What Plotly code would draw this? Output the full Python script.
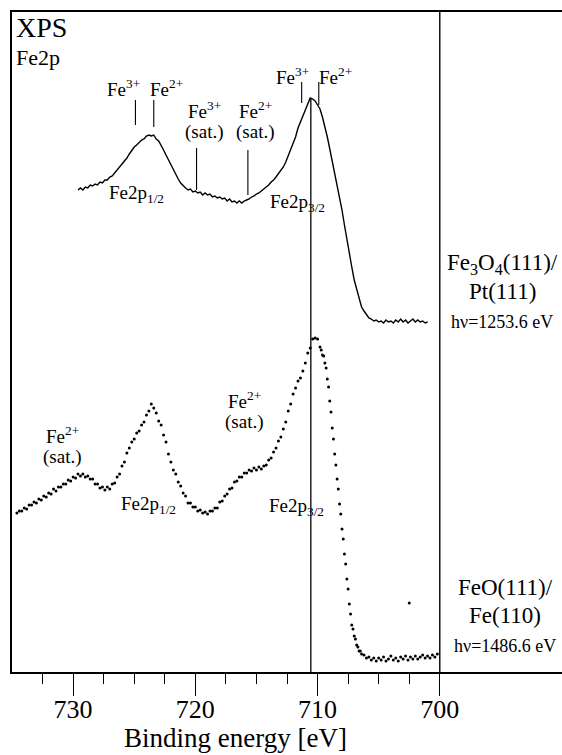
import plotly.graph_objects as go

# ---------------- data ----------------
# Fe3O4(111)/Pt(111), hv = 1253.6 eV, binding energy grid 729.6 -> 701.0 eV, step 0.2 eV
I_TOP = [
    482, 484, 482, 485, 484, 487, 486, 488, 487, 490,
    489, 492, 492, 495, 496, 499, 501, 505, 507, 511,
    514, 518, 522, 525, 527, 530, 532, 533, 536, 537,
    536, 537, 533, 531, 527, 522, 517, 512, 507, 502,
    497, 493, 489, 486, 484, 482, 483, 480, 481, 479,
    480, 477, 479, 477, 478, 475, 476, 474, 475, 473,
    474, 471, 473, 470, 471, 469, 471, 469, 471, 472,
    473, 475, 476, 478, 479, 481, 483, 485, 487, 490,
    492, 495, 498, 501, 505, 510, 516, 522, 529, 535,
    544, 551, 556, 562, 568, 574, 573, 571, 567, 563,
    555, 546, 535, 523, 511, 499, 488, 476, 462, 447,
    432, 418, 405, 392, 382, 372, 365, 361, 357, 354,
    353, 351, 352, 350, 351, 349, 352, 350, 351, 349,
    352, 350, 353, 350, 352, 349, 351, 353, 350, 352,
    350, 351, 349, 350,
]
E_TOP = [round(729.6 - 0.2 * i, 1) for i in range(len(I_TOP))]

# FeO(111)/Fe(110), hv = 1486.6 eV
# part A: 734.6 -> 709.8 eV (0.2 eV), part B: 709.7 -> 706.5 eV (0.1 eV), part C: 706.4 -> 700.2 eV (0.2 eV)
I_BOT_A = [
    159, 161, 161, 164, 163, 167, 167, 170, 169, 173,
    172, 176, 175, 179, 178, 183, 181, 185, 185, 188,
    188, 192, 191, 195, 194, 198, 196, 198, 195, 196,
    193, 193, 188, 188, 184, 185, 182, 185, 183, 188,
    189, 195, 198, 206, 210, 219, 224, 230, 233, 239,
    241, 247, 250, 257, 261, 268, 264, 259, 251, 247,
    237, 230, 218, 210, 202, 198, 190, 186, 179, 176,
    169, 169, 165, 165, 161, 162, 159, 160, 158, 161,
    161, 164, 164, 170, 171, 176, 178, 183, 184, 190,
    191, 195, 195, 199, 199, 202, 201, 204, 202, 205,
    203, 206, 207, 212, 214, 220, 224, 231, 235, 243,
    250, 261, 268, 278, 284, 291, 294, 301, 309, 319,
    324, 333, 334, 333, 325,
]
I_BOT_B = [
    322, 317, 316, 309, 304, 293, 285, 271, 260, 244,
    233, 218, 207, 193, 183, 168, 158, 143, 133, 118,
    108, 93, 83, 68, 58, 47, 43, 36, 33, 27,
    25, 21, 21,
]
I_BOT_C = [
    18, 17, 14, 15, 12, 14, 11, 14, 12, 15,
    11, 13, 16, 12, 14, 11, 15, 13, 16, 12,
    15, 13, 16, 13, 15, 17, 14, 16, 14, 17,
    15, 18,
]
E_BOT = ([round(734.6 - 0.2 * i, 1) for i in range(len(I_BOT_A))]
         + [round(709.7 - 0.1 * i, 1) for i in range(len(I_BOT_B))]
         + [round(706.4 - 0.2 * i, 1) for i in range(len(I_BOT_C))])
I_BOT = I_BOT_A + I_BOT_B + I_BOT_C
STRAY_E = [702.5]
STRAY_I = [69]

# component markers (Fe3+/Fe2+ positions) for the top spectrum
COMP_E = [724.9, 723.4, 719.9, 715.7, 711.3, 709.9]
COMP_LO = [547, 545, 482, 477, 569, 567]
COMP_HI = [572, 572, 524, 522, 590, 590]

PEAK_E = 710.55   # Fe2p3/2 reference line
EDGE_E = 700      # vertical line at 700 eV

X_MAJOR = [730, 720, 710, 700]
X_MINOR = [732.5, 727.5, 725, 722.5, 717.5, 715, 712.5, 707.5, 705, 702.5]

# ---------------- figure ----------------
SERIF = "Liberation Serif, Times New Roman, serif"
fig = go.Figure()

fig.add_trace(go.Scatter(x=E_TOP, y=I_TOP, mode="lines",
                         line=dict(color="black", width=1.4), hoverinfo="skip"))
fig.add_trace(go.Scatter(x=E_BOT + STRAY_E, y=I_BOT + STRAY_I, mode="markers",
                         marker=dict(color="black", size=3), hoverinfo="skip"))

cx, cy = [], []
for e, lo, hi in zip(COMP_E, COMP_LO, COMP_HI):
    cx += [e, e, None]
    cy += [lo, hi, None]
fig.add_trace(go.Scatter(x=cx, y=cy, mode="lines",
                         line=dict(color="black", width=1.1), hoverinfo="skip"))

fig.add_trace(go.Scatter(x=[PEAK_E, PEAK_E], y=[0, max(I_TOP)], mode="lines",
                         line=dict(color="black", width=1.3), hoverinfo="skip"))

fig.add_shape(type="line", xref="x", yref="paper", x0=EDGE_E, x1=EDGE_E, y0=0, y1=1,
              line=dict(color="black", width=1.4))

def label(text, x, y, size=19, xanchor="center", xref="x", yref="y"):
    fig.add_annotation(text=text, x=x, y=y, xref=xref, yref=yref, showarrow=False,
                       xanchor=xanchor, yanchor="middle",
                       font=dict(family=SERIF, size=size, color="black"))

label("XPS", 734.85, 645, size=28, xanchor="left")
label("Fe2p", 734.85, 615, size=22, xanchor="left")

label("Fe<sup>3+</sup>", 725.84, 584)
label("Fe<sup>2+</sup>", 722.40, 584)
label("Fe<sup>3+</sup>", 719.21, 562)
label("(sat.)", 719.21, 540)
label("Fe<sup>2+</sup>", 715.04, 562)
label("(sat.)", 715.04, 540)
label("Fe<sup>3+</sup>", 712.09, 596)
label("Fe<sup>2+</sup>", 708.57, 596)
label("Fe2p<sub>1/2</sub>", 724.85, 478)
label("Fe2p<sub>3/2</sub>", 711.68, 469)

label("Fe<sub>3</sub>O<sub>4</sub>(111)/", 694.9, 408, size=23)
label("Pt(111)", 694.9, 381, size=23)
label("hν=1253.6 eV", 694.9, 350, size=18)

label("Fe<sup>2+</sup>", 730.83, 237)
label("(sat.)", 730.83, 215)
label("Fe<sup>2+</sup>", 715.94, 272)
label("(sat.)", 715.94, 250)
label("Fe2p<sub>1/2</sub>", 723.87, 167)
label("Fe2p<sub>3/2</sub>", 711.76, 165)

label("FeO(111)/", 694.66, 85, size=23)
label("Fe(110)", 694.66, 57, size=23)
label("hν=1486.6 eV", 694.66, 26, size=18)

label("Binding energy [eV]", 716.75, -0.1, size=27, yref="paper")

fig.update_layout(
    width=562, height=755,
    margin=dict(l=12, r=0, t=12, b=83),
    paper_bgcolor="white", plot_bgcolor="white",
    showlegend=False,
    xaxis=dict(range=[735, 690], showline=True, linecolor="black", linewidth=1.5,
               mirror=True, showgrid=False, zeroline=False,
               tickmode="array", tickvals=X_MAJOR, ticks="outside", ticklen=22,
               tickwidth=1.3, tickcolor="black", ticklabelstandoff=-9,
               tickfont=dict(family=SERIF, size=26, color="black"),
               minor=dict(tickmode="array", tickvals=X_MINOR, ticks="outside",
                          ticklen=10, tickwidth=1.2, tickcolor="black", showgrid=False)),
    yaxis=dict(range=[0, 660], showline=True, linecolor="black", linewidth=1.5,
               showgrid=False, zeroline=False, showticklabels=False, ticks=""),
)

fig.write_html("out.html")
